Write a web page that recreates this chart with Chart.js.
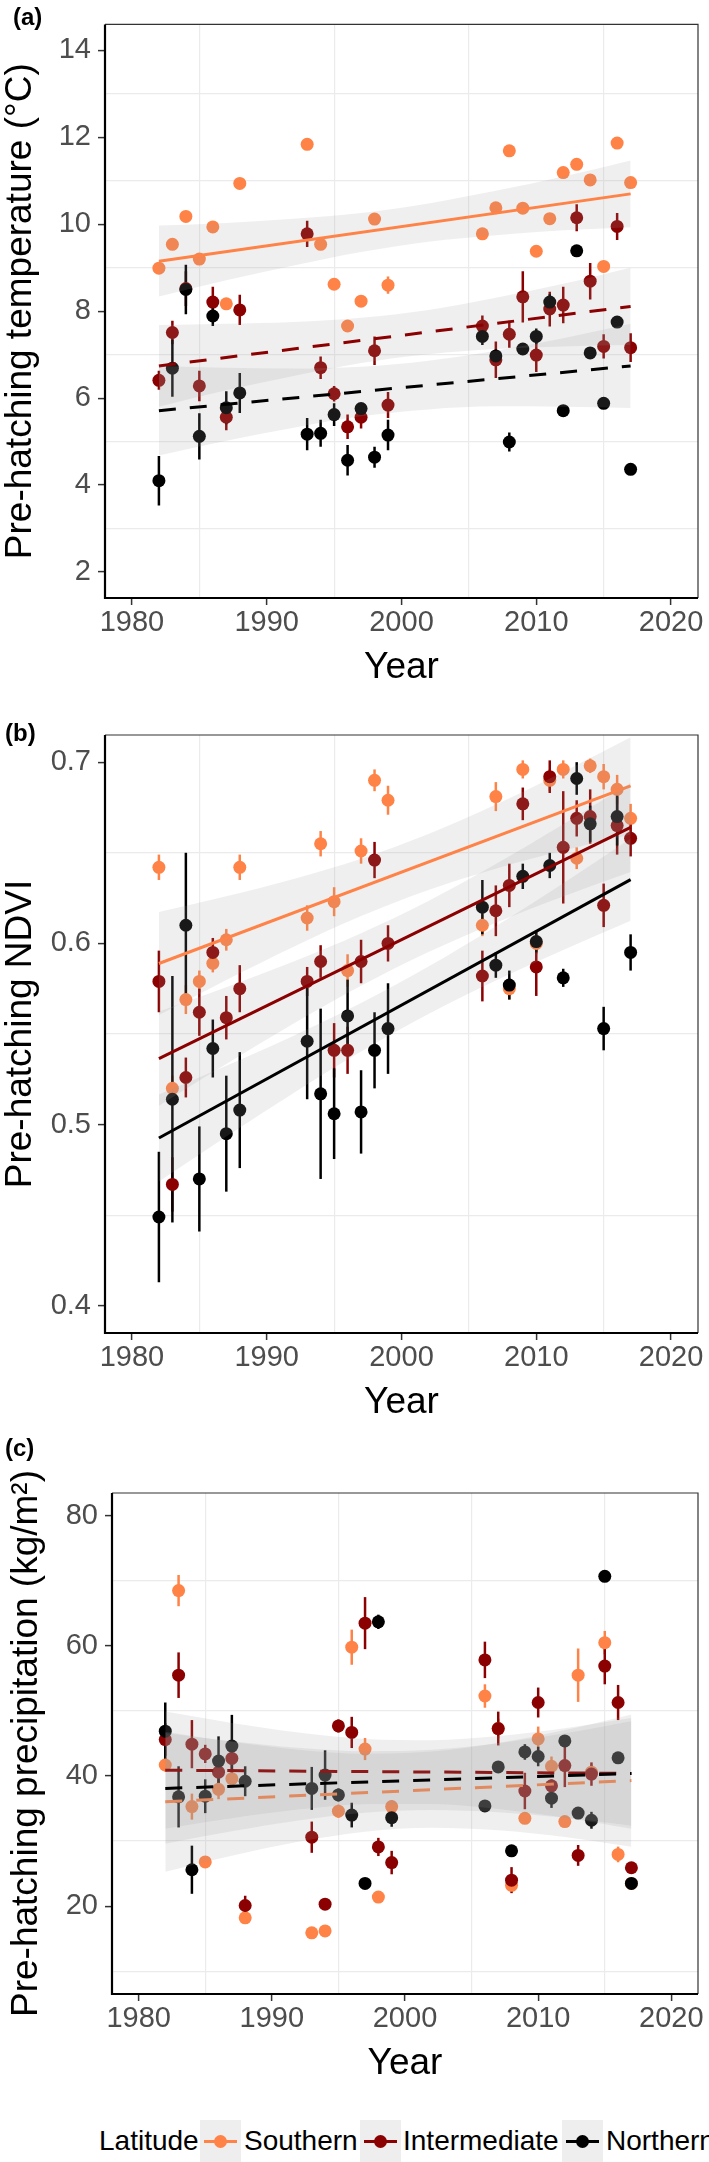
<!DOCTYPE html>
<html><head><meta charset="utf-8">
<script src="https://cdn.jsdelivr.net/npm/chart.js@4.4.1/dist/chart.umd.min.js"></script>
<style>
html,body{margin:0;padding:0;background:#fff;}
body{width:709px;height:2162px;position:relative;overflow:hidden;font-family:'Liberation Sans',Arial,sans-serif;}
canvas{position:absolute;left:0;}
#legend{position:absolute;left:0;top:2120px;width:709px;height:42px;}
.lt{position:absolute;top:0;line-height:42px;font-size:28px;color:#000;white-space:nowrap;}
.key{position:absolute;top:0;width:41px;height:42px;background:#EEEEEE;}
.key .ln{position:absolute;left:4px;right:4px;top:19.5px;height:3px;}
.key .dt{position:absolute;left:14px;top:14.5px;width:13px;height:13px;border-radius:50%;}
</style></head>
<body>
<canvas id="ca" width="709" height="700" style="top:0px;width:709px;height:700px"></canvas>
<canvas id="cb" width="709" height="735" style="top:700px;width:709px;height:735px"></canvas>
<canvas id="cc" width="709" height="661" style="top:1435px;width:709px;height:661px"></canvas>
<div id="legend">
  <span class="lt" style="left:99px">Latitude</span>
  <div class="key" style="left:200px"><div class="ln" style="background:#FF8247"></div><div class="dt" style="background:#FF8247"></div></div>
  <span class="lt" style="left:244px">Southern</span>
  <div class="key" style="left:360px"><div class="ln" style="background:#8B0000"></div><div class="dt" style="background:#8B0000"></div></div>
  <span class="lt" style="left:403px">Intermediate</span>
  <div class="key" style="left:562px"><div class="ln" style="background:#000"></div><div class="dt" style="background:#000"></div></div>
  <span class="lt" style="left:606px">Northern</span>
</div>
<script>
// ---------- data ----------
const years = [1982,1983,1984,1985,1986,1987,1988,1993,1994,1995,1996,1997,1998,1999,2006,2007,2008,2009,2010,2011,2012,2013,2014,2015,2016,2017];
const fitYears = [1982,1987,1992,1997,2002,2007,2012,2017];
const lineYears = [1982,2017];

// x axis ticks
const yearTickVals = [1980,1990,2000,2010,2020];
const yearTickText = ['1980','1990','2000','2010','2020'];
const yearGridVals = [1985,1995,2005,2015];

// Panel (a) temperature
const tempTickVals = [2,4,6,8,10,12,14];
const tempTickText = ['2','4','6','8','10','12','14'];
const tempGridVals = [3,5,7,9,11,13];
const tempSouth = [8.99,9.54,10.18,9.20,9.94,8.17,10.94,11.84,9.54,8.62,7.66,8.23,10.12,8.60,9.78,10.38,11.69,10.37,9.38,10.13,11.19,11.38,11.02,9.03,11.87,10.96];
const tempSouthErr = [0.10,0.10,0.10,0.10,0.10,0.10,0.10,0.10,0.10,0.10,0.10,0.10,0.10,0.20,0.10,0.10,0.10,0.10,0.10,0.10,0.10,0.10,0.10,0.10,0.10,0.10];
const tempInter = [6.41,7.51,8.52,6.28,8.21,5.56,8.03,9.78,6.70,6.10,5.34,5.56,7.09,5.84,7.66,6.88,7.47,8.33,6.99,8.05,8.14,10.15,8.69,7.19,9.95,7.16];
const tempInterErr = [0.22,0.27,0.40,0.35,0.35,0.30,0.35,0.30,0.26,0.18,0.28,0.26,0.33,0.30,0.24,0.42,0.31,0.59,0.39,0.40,0.42,0.31,0.42,0.28,0.31,0.33];
const tempNorth = [4.10,6.69,8.50,5.12,7.89,5.78,6.12,5.17,5.19,5.62,4.57,5.76,4.64,5.15,7.42,6.97,4.99,7.13,7.42,8.21,5.71,9.39,7.04,5.88,7.75,4.36];
const tempNorthErr = [0.57,0.66,0.57,0.53,0.23,0.38,0.46,0.37,0.31,0.26,0.35,0.10,0.24,0.35,0.20,0.15,0.22,0.10,0.18,0.18,0.08,0.10,0.08,0.08,0.08,0.08];
const tempSouthFit = [9.15,10.70];
const tempInterFit = [6.74,8.11];
const tempNorthFit = [5.71,6.74];
const tempSouthUpper = [9.97,10.03,10.13,10.26,10.48,10.77,11.10,11.47];
const tempSouthLower = [8.34,8.71,9.05,9.36,9.60,9.75,9.86,9.93];
const tempInterUpper = [7.68,7.71,7.75,7.85,8.03,8.31,8.63,9.00];
const tempInterLower = [5.80,6.18,6.51,6.81,7.01,7.13,7.19,7.22];
const tempNorthUpper = [6.74,6.70,6.68,6.72,6.86,7.09,7.38,7.71];
const tempNorthLower = [4.68,5.02,5.32,5.58,5.74,5.81,5.80,5.77];

// Panel (b) NDVI
const ndviTickVals = [0.4,0.5,0.6,0.7];
const ndviTickText = ['0.4','0.5','0.6','0.7'];
const ndviGridVals = [0.45,0.55,0.65];
const ndviSouth = [0.642,0.520,0.569,0.579,0.589,0.602,0.642,0.614,0.655,0.623,0.585,0.651,0.690,0.679,0.610,0.681,0.575,0.696,0.600,0.690,0.696,0.647,0.698,0.692,0.685,0.669];
const ndviSouthErr = [0.007,0.007,0.008,0.006,0.005,0.006,0.007,0.007,0.007,0.008,0.009,0.007,0.006,0.008,0.006,0.008,0.006,0.005,0.006,0.006,0.005,0.006,0.004,0.007,0.008,0.008];
const ndviInter = [0.579,0.467,0.526,0.562,0.595,0.559,0.575,0.579,0.590,0.541,0.541,0.590,0.646,0.600,0.582,0.618,0.632,0.677,0.587,0.692,0.653,0.669,0.670,0.621,0.665,0.658];
const ndviInterErr = [0.017,0.015,0.011,0.013,0.008,0.012,0.013,0.008,0.009,0.015,0.013,0.012,0.010,0.010,0.014,0.014,0.012,0.009,0.016,0.009,0.031,0.010,0.015,0.012,0.016,0.010];
const ndviNorth = [0.449,0.514,0.610,0.470,0.542,0.495,0.508,0.546,0.517,0.506,0.560,0.507,0.541,0.553,0.620,0.588,0.577,0.637,0.601,0.643,0.581,0.691,0.666,0.553,0.670,0.595];
const ndviNorthErr = [0.036,0.068,0.040,0.029,0.016,0.032,0.032,0.032,0.047,0.025,0.020,0.023,0.021,0.025,0.015,0.007,0.008,0.007,0.006,0.007,0.005,0.009,0.010,0.012,0.016,0.010];
const ndviSouthFit = [0.5889,0.6869];
const ndviInterFit = [0.5364,0.6640];
const ndviNorthFit = [0.4926,0.6352];
const ndviSouthUpper = [0.6173,0.6260,0.6356,0.6467,0.6603,0.6766,0.6946,0.7137];
const ndviSouthLower = [0.5605,0.5798,0.5982,0.6151,0.6295,0.6412,0.6512,0.6601];
const ndviInterUpper = [0.5624,0.5758,0.5900,0.6056,0.6234,0.6438,0.6657,0.6886];
const ndviInterLower = [0.5104,0.5334,0.5558,0.5766,0.5952,0.6114,0.6259,0.6394];
const ndviNorthUpper = [0.5166,0.5325,0.5491,0.5671,0.5872,0.6095,0.6332,0.6579];
const ndviNorthLower = [0.4686,0.4935,0.5175,0.5403,0.5610,0.5795,0.5964,0.6125];

// Panel (c) precipitation
const precTickVals = [20,40,60,80];
const precTickText = ['20','40','60','80'];
const precGridVals = [10,30,50,70];
const precSouth = [41.7,68.5,35.3,26.8,37.95,39.6,18.2,15.9,16.2,34.6,59.8,44.15,21.4,35.3,52.3,47.3,23.2,33.5,45.7,41.5,33.0,55.5,40.6,60.5,27.95,23.5];
const precSouthErr = [1.0,2.4,2.0,0.8,1.5,1.2,0.8,0.8,0.8,1.0,2.7,1.7,0.8,1.0,1.8,1.5,0.8,0.8,1.9,1.5,0.8,4.1,1.2,1.8,1.2,0.8];
const precInter = [45.6,55.5,44.9,43.4,40.6,42.7,20.1,30.6,20.3,47.7,46.7,63.5,29.1,26.7,57.85,47.3,24.0,37.7,51.3,38.5,41.6,27.8,40.3,56.9,51.3,25.9];
const precInterErr = [2.5,3.5,3.7,1.4,2.3,1.8,1.5,2.4,0.8,1.0,2.4,4.0,1.4,1.8,2.8,2.6,2.0,2.8,2.3,1.0,3.3,1.6,1.8,2.8,2.7,0.8];
const precNorth = [46.9,36.8,25.6,36.9,42.3,44.6,39.2,38.1,40.15,37.1,34.0,23.5,63.7,33.6,35.4,41.4,28.5,43.7,43.0,36.6,45.4,34.3,33.2,70.7,42.8,23.5];
const precNorthErr = [4.4,4.7,3.7,2.6,3.8,4.8,2.3,3.3,3.8,1.0,1.9,0.8,1.1,1.4,0.8,0.8,0.8,1.2,1.5,1.5,0.8,0.8,1.3,0.8,0.8,0.8];
const precSouthFit = [36.05,39.30];
const precInterFit = [40.90,40.40];
const precNorthFit = [38.10,40.40];
const precSouthUpper = [46.80,45.26,44.05,43.43,43.76,45.07,47.06,49.46];
const precSouthLower = [25.30,27.76,29.91,31.45,32.06,31.67,30.62,29.14];
const precInterUpper = [49.90,48.16,46.68,45.70,45.51,46.15,47.36,48.91];
const precInterLower = [31.90,33.50,34.84,35.68,35.71,34.93,33.58,31.89];
const precNorthUpper = [46.60,45.35,44.35,43.82,44.03,45.04,46.57,48.43];
const precNorthLower = [29.60,31.51,33.17,34.36,34.79,34.44,33.57,32.37];

// ---------- styling ----------
const SOUTH_COL = '#FF8247', INTER_COL = '#8B0000', NORTH_COL = '#000000';
const BAND_FILL = 'rgba(153,153,153,0.16)';
const DASH = [17,14];
const FONT = "'Liberation Sans', Arial, sans-serif";
Chart.defaults.font.family = FONT;

function mkTicks(vals, txt, grid){
  return vals.map((v,i)=>({value:v, txt:txt[i]})).concat(grid.map(v=>({value:v, txt:''}))).sort((a,b)=>a.value-b.value);
}
function asPts(xs, ys){ return xs.map((x,i)=>({x:x, y:ys[i]})); }

function buildDatasets(groups){
  const ds = [];
  groups.forEach((g,k)=>ds.push({
    label:g.name, data:asPts(years,g.vals), errs:g.errs, errColor:g.color,
    showLine:false, pointRadius:6.5, pointHoverRadius:6.5, pointBackgroundColor:g.color,
    backgroundColor:g.color, borderColor:g.color, pointBorderWidth:0, borderWidth:0, order:100-k
  }));
  groups.forEach((g,k)=>{
    const base = ds.length;
    ds.push({label:g.name+' upper', data:asPts(fitYears,g.upper), showLine:true, borderColor:'rgba(0,0,0,0)', borderWidth:0,
      pointRadius:0, fill:base+1, backgroundColor:BAND_FILL, cubicInterpolationMode:'monotone', order:60-20*k});
    ds.push({label:g.name+' lower', data:asPts(fitYears,g.lower), showLine:true, borderColor:'rgba(0,0,0,0)', borderWidth:0,
      pointRadius:0, fill:false, cubicInterpolationMode:'monotone', order:60-20*k});
    ds.push({label:g.name+' fit', data:asPts(lineYears,g.fit), showLine:true, borderColor:g.color, borderWidth:3,
      borderDash:g.dash, pointRadius:0, fill:false, order:55-20*k});
  });
  return ds;
}

const errorBars = {
  id:'errorBars',
  beforeDatasetsDraw(chart){
    const {ctx, chartArea:a, scales:{x,y}} = chart;
    ctx.save();
    ctx.beginPath(); ctx.rect(a.left,a.top,a.right-a.left,a.bottom-a.top); ctx.clip();
    chart.data.datasets.forEach(ds=>{
      if(!ds.errs) return;
      ctx.strokeStyle = ds.errColor; ctx.lineWidth = 2.5;
      ds.data.forEach((p,i)=>{
        const e = ds.errs[i], px = x.getPixelForValue(p.x);
        ctx.beginPath(); ctx.moveTo(px, y.getPixelForValue(p.y-e)); ctx.lineTo(px, y.getPixelForValue(p.y+e)); ctx.stroke();
      });
    });
    ctx.restore();
  }
};
const panelBox = {
  id:'panelBox',
  afterDatasetsDraw(chart){
    const {ctx, chartArea:{left,right,top,bottom}} = chart;
    ctx.save();
    ctx.strokeStyle='#333'; ctx.lineWidth=1.2;
    ctx.beginPath(); ctx.moveTo(left,top); ctx.lineTo(right,top); ctx.lineTo(right,bottom); ctx.stroke();
    ctx.strokeStyle='#000'; ctx.lineWidth=2.2;
    ctx.beginPath(); ctx.moveTo(left,top); ctx.lineTo(left,bottom); ctx.lineTo(right,bottom); ctx.stroke();
    ctx.restore();
  }
};
const panelTag = {
  id:'panelTag',
  afterDraw(chart, args, opts){
    const ctx = chart.ctx;
    ctx.save(); ctx.font = 'bold 24px ' + FONT; ctx.fillStyle = '#000';
    ctx.textBaseline = 'middle'; ctx.textAlign = 'left';
    ctx.fillText(opts.text, opts.x, opts.y); ctx.restore();
  }
};

function makePanel(id, p){
  const xt = mkTicks(yearTickVals, yearTickText, yearGridVals);
  const yt = mkTicks(p.yVals, p.yText, p.yGrid);
  const gridColor = c => (c.tick && c.tick.txt === '') ? '#EBEBEB' : 'rgba(0,0,0,0)';
  const tickColor = c => (c.tick && c.tick.txt !== '') ? '#333333' : 'rgba(0,0,0,0)';
  return new Chart(document.getElementById(id), {
    type:'line',
    data:{datasets:buildDatasets(p.groups)},
    options:{
      responsive:false, animation:false, events:[], devicePixelRatio:1,
      layout:{padding:{top:p.padTop, right:11, bottom:0, left:0}},
      plugins:{legend:{display:false}, tooltip:{enabled:false}, panelTag:p.tag},
      scales:{
        x:{type:'linear', min:1978, max:2022,
          afterBuildTicks:s=>{ s.ticks = xt.map(t=>({value:t.value, txt:t.txt})); },
          afterFit:s=>{ s.height = 102; },
          ticks:{autoSkip:false, maxRotation:0, minRotation:0, color:'#4D4D4D', font:{size:29}, padding:1,
            callback:(v,i,ts)=>ts[i].txt},
          grid:{color:gridColor, lineWidth:1.2, tickLength:7, tickColor:tickColor, tickWidth:1.5},
          border:{display:false},
          title:{display:true, text:'Year', color:'#000', font:{size:37, lineHeight:1.1}, padding:{top:0, bottom:12}}
        },
        y:{type:'linear', min:p.yMin, max:p.yMax,
          afterBuildTicks:s=>{ s.ticks = yt.map(t=>({value:t.value, txt:t.txt})); },
          afterFit:s=>{ s.width = p.yWidth; },
          ticks:{autoSkip:false, color:'#4D4D4D', font:{size:29}, padding:7,
            callback:(v,i,ts)=>ts[i].txt},
          grid:{color:gridColor, lineWidth:1.2, tickLength:7, tickColor:tickColor, tickWidth:1.5},
          border:{display:false},
          title:{display:true, text:p.yTitle, color:'#000', font:{size:37, lineHeight:1.1}, padding:{top:p.titlePad, bottom:0}}
        }
      }
    },
    plugins:[errorBars, panelBox, panelTag]
  });
}

makePanel('ca', {
  yMin:1.4, yMax:14.6, yVals:tempTickVals, yText:tempTickText, yGrid:tempGridVals,
  yTitle:'Pre-hatching temperature (°C)', yWidth:105, padTop:1, titlePad:0,
  tag:{text:'(a)', x:13, y:18},
  groups:[
    {name:'Southern', color:SOUTH_COL, vals:tempSouth, errs:tempSouthErr, fit:tempSouthFit, upper:tempSouthUpper, lower:tempSouthLower, dash:[]},
    {name:'Intermediate', color:INTER_COL, vals:tempInter, errs:tempInterErr, fit:tempInterFit, upper:tempInterUpper, lower:tempInterLower, dash:DASH},
    {name:'Northern', color:NORTH_COL, vals:tempNorth, errs:tempNorthErr, fit:tempNorthFit, upper:tempNorthUpper, lower:tempNorthLower, dash:DASH}
  ]
});
makePanel('cb', {
  yMin:0.385, yMax:0.715, yVals:ndviTickVals, yText:ndviTickText, yGrid:ndviGridVals,
  yTitle:'Pre-hatching NDVI', yWidth:105, padTop:35, titlePad:0,
  tag:{text:'(b)', x:5, y:34},
  groups:[
    {name:'Southern', color:SOUTH_COL, vals:ndviSouth, errs:ndviSouthErr, fit:ndviSouthFit, upper:ndviSouthUpper, lower:ndviSouthLower, dash:[]},
    {name:'Intermediate', color:INTER_COL, vals:ndviInter, errs:ndviInterErr, fit:ndviInterFit, upper:ndviInterUpper, lower:ndviInterLower, dash:[]},
    {name:'Northern', color:NORTH_COL, vals:ndviNorth, errs:ndviNorthErr, fit:ndviNorthFit, upper:ndviNorthUpper, lower:ndviNorthLower, dash:[]}
  ]
});
makePanel('cc', {
  yMin:6.5, yMax:83.5, yVals:precTickVals, yText:precTickText, yGrid:precGridVals,
  yTitle:'Pre-hatching precipitation (kg/m²)', yWidth:112, padTop:58, titlePad:6,
  tag:{text:'(c)', x:5, y:14},
  groups:[
    {name:'Southern', color:SOUTH_COL, vals:precSouth, errs:precSouthErr, fit:precSouthFit, upper:precSouthUpper, lower:precSouthLower, dash:DASH},
    {name:'Intermediate', color:INTER_COL, vals:precInter, errs:precInterErr, fit:precInterFit, upper:precInterUpper, lower:precInterLower, dash:DASH},
    {name:'Northern', color:NORTH_COL, vals:precNorth, errs:precNorthErr, fit:precNorthFit, upper:precNorthUpper, lower:precNorthLower, dash:DASH}
  ]
});
</script>
</body></html>
